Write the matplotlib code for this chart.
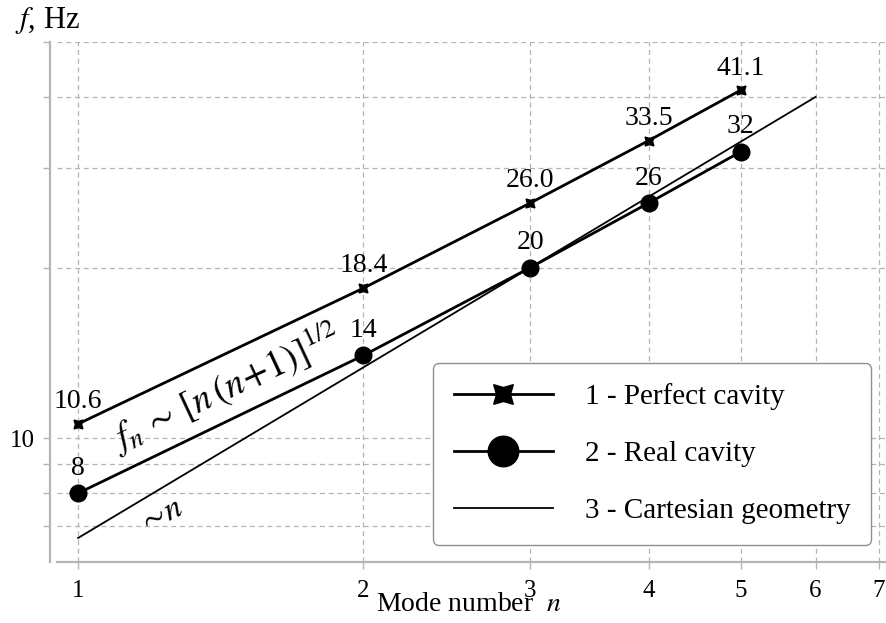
import numpy as np
import matplotlib
matplotlib.use('Agg')
import matplotlib.pyplot as plt
import matplotlib.ticker as ticker
from matplotlib.lines import Line2D

plt.rcParams.update({
    'font.family': 'Liberation Serif',
    'mathtext.fontset': 'stix',
    'font.size': 19,
})

# data
modes = [1, 2, 3, 4, 5]
perfect = [10.6, 18.4, 26.0, 33.5, 41.1]
perfect_labels = ['10.6', '18.4', '26.0', '33.5', '41.1']
real = [8, 14, 20, 26, 32]
real_labels = ['8', '14', '20', '26', '32']
cart_n = [1, 6]
cart_f = [6.67, 40.0]

x_ticks = [1, 2, 3, 4, 5, 6, 7]
y_major = [10]
y_minor = [7, 8, 9, 20, 30, 40, 50]

grid_col = '#b4b4b4'

fig = plt.figure(figsize=(8.86, 6.23), dpi=100)
ax = fig.add_axes([57 / 886, 61 / 623, 1 - 57 / 886, 520 / 623])
ax.set_xscale('log')
ax.set_yscale('log')
ax.set_xlim(0.95, 7.12)
ax.set_ylim(6.05, 50)

# lines
ax.plot(modes, perfect, color='black', lw=2.0,
        marker=(4, 1, 45), ms=9, zorder=5)
ax.plot(modes, real, color='black', lw=2.0, marker='o', ms=12, zorder=5)
ax.plot(cart_n, cart_f, color='black', lw=1.3, zorder=4)

# value labels
for x, y, s in zip(modes, perfect, perfect_labels):
    ax.annotate(s, (x, y), xytext=(0, 7), textcoords='offset points',
                ha='center', va='bottom', fontsize=20)
for x, y, s in zip(modes, real, real_labels):
    ax.annotate(s, (x, y), xytext=(0, 9), textcoords='offset points',
                ha='center', va='bottom', fontsize=20)

# formula annotations
ax.text(1.10, 9.45, r'$f_n\,\sim\,[n\,(n\!+\!1)]^{1/2}$', rotation=25,
        rotation_mode='anchor', fontsize=27, ha='left', va='baseline')
ax.text(1.17, 6.8, r'$\sim\!n$', rotation=25, rotation_mode='anchor',
        fontsize=24, ha='left', va='baseline')

# axes / grid styling
ax.xaxis.set_major_locator(ticker.FixedLocator(x_ticks))
ax.xaxis.set_major_formatter(ticker.FixedFormatter([str(t) for t in x_ticks]))
ax.xaxis.set_minor_locator(ticker.NullLocator())
ax.yaxis.set_major_locator(ticker.FixedLocator(y_major))
ax.yaxis.set_major_formatter(ticker.FixedFormatter(['10']))
ax.yaxis.set_minor_locator(ticker.FixedLocator(y_minor))
ax.yaxis.set_minor_formatter(ticker.NullFormatter())

ax.grid(True, which='both', color=grid_col, ls=(0, (4, 3)), lw=0.9)
ax.tick_params(which='both', direction='out', length=5, width=1,
               color=grid_col, labelsize=18)
ax.tick_params(axis='x', pad=8)
ax.tick_params(axis='y', pad=6)

for side in ['top', 'right']:
    ax.spines[side].set_visible(False)
for side in ['left', 'bottom']:
    ax.spines[side].set_color(grid_col)
    ax.spines[side].set_linewidth(1.6)
ax.spines['left'].set_position(('outward', 5))

ax.set_xlabel(r'Mode number  $n$', fontsize=20)
ax.xaxis.set_label_coords(0.497, -0.058)
fig.text(15 / 886, 1 - 21 / 623, r'$f$, Hz', fontsize=22, va='center')

handles = [
    Line2D([], [], color='black', lw=2.0, marker=(4, 1, 45), ms=20),
    Line2D([], [], color='black', lw=2.0, marker='o', ms=22),
    Line2D([], [], color='black', lw=1.3),
]
labels = ['1 - Perfect cavity', '2 - Real cavity', '3 - Cartesian geometry']
leg = ax.legend(handles, labels, loc='lower right', bbox_to_anchor=(0.982, 0.033),
                borderaxespad=0, fontsize=21, handlelength=3.4, labelspacing=1.05,
                handletextpad=1.1, borderpad=0.7, fancybox=True, framealpha=1)
leg.get_frame().set_edgecolor('#909090')
leg.get_frame().set_linewidth(1.0)

fig.savefig('out.png', dpi=100)
